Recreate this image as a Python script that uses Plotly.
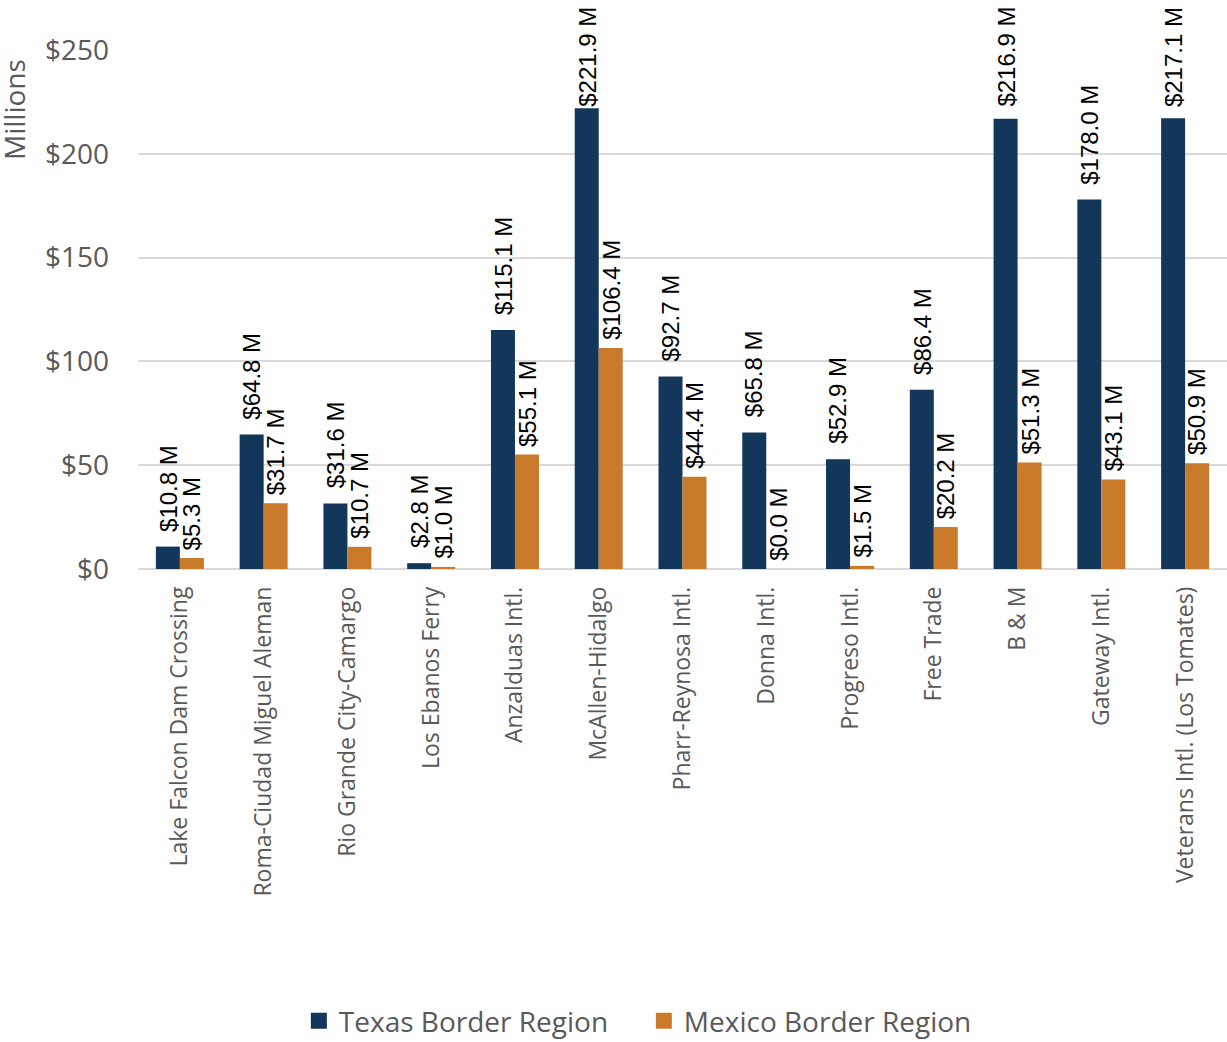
import plotly.graph_objects as go

crossings = [
    "Lake Falcon Dam Crossing", "Roma-Ciudad Miguel Aleman", "Rio Grande City-Camargo",
    "Los Ebanos Ferry", "Anzalduas Intl.", "McAllen-Hidalgo", "Pharr-Reynosa Intl.",
    "Donna Intl.", "Progreso Intl.", "Free Trade", "B & M", "Gateway Intl.",
    "Veterans Intl. (Los Tomates)",
]
texas_region = [10.8, 64.8, 31.6, 2.8, 115.1, 221.9, 92.7, 65.8, 52.9, 86.4, 216.9, 178.0, 217.1]
mexico_region = [5.3, 31.7, 10.7, 1.0, 55.1, 106.4, 44.4, 0.0, 1.5, 20.2, 51.3, 43.1, 50.9]
y_ticks = [0, 50, 100, 150, 200, 250]
y_tick_labels = ["$0", "$50", "$100", "$150", "$200", "$250"]

TEXAS_COLOR = "#12375A"
MEXICO_COLOR = "#C97A2A"
GREY_TEXT = "#595959"
LABEL_FONT = dict(family="Liberation Sans, Arial, sans-serif", size=24, color="#000000")

# figure geometry
WIDTH, HEIGHT = 1227, 1042
M_LEFT, M_RIGHT, M_TOP, M_BOTTOM = 138, 0, 50, 473
Y_MAX = 250
PLOT_H = HEIGHT - M_TOP - M_BOTTOM
PX_PER_UNIT = PLOT_H / Y_MAX
TOP_PAD = 6          # labels never rise above this many px from the top edge
CHAR_PX = 12.5       # approx. advance per label character at LABEL_FONT size


def value_labels(values, xshift, gap):
    """Rotated value labels above each bar, pinned to the top edge when they would overflow."""
    notes = []
    for name, v in zip(crossings, values):
        text = f"${v:.1f} M"
        room = (Y_MAX - v) * PX_PER_UNIT + M_TOP - TOP_PAD
        needed = gap + len(text) * CHAR_PX
        common = dict(x=name, xref="x", text=text, textangle=-90, showarrow=False,
                      font=LABEL_FONT, xanchor="center", xshift=xshift, borderpad=0)
        if needed > room:
            notes.append(dict(common, yref="paper", y=1 + (M_TOP - TOP_PAD) / PLOT_H,
                              yanchor="top"))
        else:
            notes.append(dict(common, yref="y", y=v, yanchor="bottom", yshift=gap))
    return notes


fig = go.Figure()
fig.add_trace(go.Bar(name="Texas Border Region", x=crossings, y=texas_region,
                     marker=dict(color=TEXAS_COLOR, line=dict(width=0)), showlegend=False))
fig.add_trace(go.Bar(name="Mexico Border Region", x=crossings, y=mexico_region,
                     marker=dict(color=MEXICO_COLOR, line=dict(width=0)), showlegend=False))

# square legend keys
for name, color in [("Texas Border Region", TEXAS_COLOR), ("Mexico Border Region", MEXICO_COLOR)]:
    fig.add_trace(go.Scatter(name=name, x=[None], y=[None], mode="markers",
                             marker=dict(symbol="square", size=18, color=color)))

annotations = value_labels(texas_region, -12, 14) + value_labels(mexico_region, 12, 7)
annotations.append(dict(
    text="Millions", xref="paper", yref="paper", x=0, y=1 - (110 - M_TOP) / PLOT_H,
    xanchor="center", yanchor="middle", xshift=-124, textangle=-90, showarrow=False,
    font=dict(size=28, color=GREY_TEXT),
))

fig.update_layout(
    width=WIDTH,
    height=HEIGHT,
    margin=dict(l=M_LEFT, r=M_RIGHT, t=M_TOP, b=M_BOTTOM, autoexpand=False),
    paper_bgcolor="white",
    plot_bgcolor="white",
    barmode="group",
    bargap=0.427,
    bargroupgap=0,
    font=dict(family="Open Sans, sans-serif", color=GREY_TEXT),
    showlegend=True,
    legend=dict(
        orientation="h",
        x=0.4645,
        xanchor="center",
        y=1 - (1021 - M_TOP) / PLOT_H,
        yanchor="middle",
        font=dict(size=28, color=GREY_TEXT),
        traceorder="normal",
        entrywidth=300,
    ),
    xaxis=dict(
        tickangle=-90,
        tickfont=dict(size=23, color=GREY_TEXT),
        showgrid=False,
        showline=False,
        ticks="",
        ticklabelstandoff=12,
    ),
    yaxis=dict(
        range=[0, Y_MAX],
        tickvals=y_ticks,
        ticktext=y_tick_labels,
        tickfont=dict(size=28, color=GREY_TEXT),
        showgrid=True,
        gridcolor="#D9D9D9",
        gridwidth=2,
        zeroline=True,
        zerolinecolor="#D9D9D9",
        zerolinewidth=2,
        showline=False,
        ticks="",
        ticklabelstandoff=28,
    ),
    annotations=annotations,
)

fig.write_html("out.html")
